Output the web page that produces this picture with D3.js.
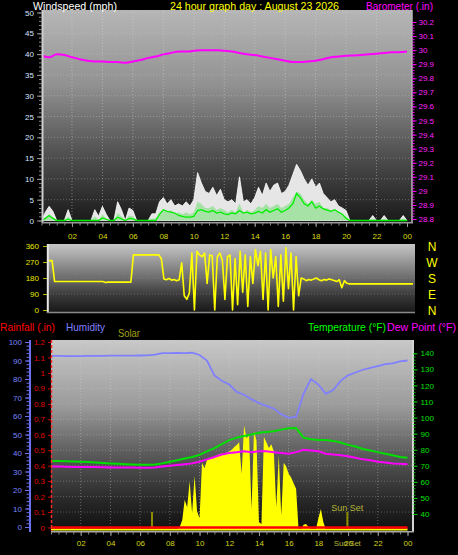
<!DOCTYPE html>
<html><head><meta charset="utf-8">
<script src="https://cdn.jsdelivr.net/npm/d3@7"></script>
<style>body{margin:0;background:#000;overflow:hidden}svg{display:block}</style>
</head><body><svg id="c" width="458" height="555"></svg>
<script>
// ---------------- DATA ----------------
const hourTickValues = [2,4,6,8,10,12,14,16,18,20,22,24];
const hourTickLabels = ["02","04","06","08","10","12","14","16","18","20","22","00"];
const windTicks = [0,5,10,15,20,25,30,35,40,45,50];
const baroTicks = [28.8,28.9,29,29.1,29.2,29.3,29.4,29.5,29.6,29.7,29.8,29.9,30,30.1,30.2];
const dirTicks = [0,90,180,270,360];
const compassLabels = ["N","E","S","W","N"];
const humTicks = [0,10,20,30,40,50,60,70,80,90,100];
const rainTicks = [0,0.1,0.2,0.3,0.4,0.5,0.6,0.7,0.8,0.9,1,1.1,1.2];
const tempTicks = [40,50,60,70,80,90,100,110,120,130,140];

// wind, every 15 minutes from 00:00 to 24:00 (mph)
const windStepHours = 0.25;
const windGust = [
 0,2,3.4,2.2, 0,0,0,2.6, 0,0,0,0, 0,0,2.6,1, 3.4,1.5,0,0, 4.5,2.6,0,3,
 2.4,0,0,0, 0,1.6,1.6,4.5, 5.5,4,5,3.5, 4,3.5,4.5,3.5, 5,11.5,9,7, 6.5,8,6,7.5,
 5,4.5,5,4, 10.5,4.5,5,4, 5.5,8,6,9, 7,8.5,9,6.5, 7,8.5,11,13.5, 12,10,8.5,10,
 8,9,6.5,5.5, 4.5,5,3.5,3, 2.4,0,0,0, 0,0,0,1.2, 0,0,1.2,0, 0,0,0,1.2, 0];
const windSpeed = [
 0,0.8,1.5,0.8, 0,0,0,1, 0,0,0,0, 0,0,1,0, 1.5,0.5,0,0, 1.8,1,0,1.2,
 1,0,0,0, 0,0.5,0.5,2, 2.5,2,2.5,1.5, 2,1.5,2,1.5, 2,4.5,4,3, 3,3.5,2.5,3,
 2.5,2,2.5,2, 4,2,2.5,2, 2.5,3.5,3,4, 3,3.5,4,3, 3.5,4,5.5,7, 6.5,5,4,5,
 4,4.5,3,3, 2.5,2.5,2,1.5, 1,0,0,0, 0,0,0,0.5, 0,0,0.5,0, 0,0,0,0.5, 0];
const windAvg = [
 0,0.5,1.2,0.5, 0,0,0,0.3, 0,0,0,0, 0,0,0,0, 0.6,0.3,0,0, 0.8,0.4,0,0.5,
 0.4,0,0,0, 0,0,0,1.5, 2.6,2.2,2,1.8, 1.2,1,0.8,0.8, 1,2.4,2.6,2.2, 2,2.4,1.8,2,
 1.6,1.4,1.8,1.6, 2.4,1.8,2,1.6, 1.8,2.2,1.8,2.6, 2,2.4,2.8,2, 2.4,3,4,6.5, 5.5,4,3.5,4.5,
 3,3.5,2.8,2.5, 2.2,2.6,2,1.5, 0.5,0,0,0, 0,0,0,0, 0,0,0,0, 0,0,0,0, 0];

// barometer, every 30 minutes (in)
const baroStepHours = 0.5;
const barometer = [
 29.96,29.95,29.97,29.965,29.95,29.935,29.925,29.92,29.92,29.915,29.915,29.91,
 29.92,29.93,29.945,29.955,29.97,29.98,29.99,29.99,29.995,30.0,30.0,30.0,
 29.995,29.99,29.98,29.97,29.965,29.955,29.945,29.935,29.925,29.915,29.915,29.92,
 29.925,29.935,29.95,29.955,29.96,29.962,29.965,29.97,29.975,29.98,29.985,29.985,29.99];

// wind direction, every 10 minutes (degrees)
const dirStepHours = 1/6;
const windDir = [
 278,278,278,160,160,160,   160,160,160,160,160,160,   160,160,160,160,160,160,
 160,160,160,160,160,155,   157,157,157,157,157,157,   157,157,157,157,310,310,
 310,310,310,310,310,310,   310,310,310,288,175,170,   178,168,172,165,170,265,
 80,60,95,320,0,330,        310,300,320,150,310,305,   0,300,320,280,60,300,
 310,0,290,30,330,100,      310,20,300,150,340,250,    330,60,320,0,340,180,
 300,20,310,50,350,120,     320,0,300,80,180,175,      165,172,168,175,180,170,
 165,172,168,175,170,166,   160,170,125,165,150,147,   147,147,147,147,147,147,
 147,147,147,147,147,147,   147,147,147,147,147,147,   147,147,147,147,147,147,
 147];

// temperature / dew point / humidity, every 30 minutes
const thStepHours = 0.5;
const humidity = [
 92.5,92.5,92.4,92.4,92.4,92.5,92.5,92.5,92.6,92.6,92.6,92.6,
 92.7,92.8,93.2,94,94,94.1,94,94.2,93,90,82,79,
 77,73,71.5,69,67,65.5,64,61,59,59.5,72,80,
 77,72,74,79,82,83.5,85,86,87,88,88.5,89.5,90];
const temperature = [
 73,73,72.8,72.6,72.5,72.3,72,71.8,71.5,71.3,71,70.8,
 70.6,70.6,70.8,71.5,72.5,73.5,74.5,75.5,76.8,79,81,83.5,
 86,87.5,88.5,89.5,90.5,91,91.5,92.5,93.3,93.5,87.5,86.5,
 86,86,85.5,84.5,83,82,80.5,79.5,78.5,77.5,76.5,75.5,75];
const dewPoint = [
 69.5,69.5,69.4,69.3,69.3,69.2,69.2,69.1,69,69,69,68.9,
 68.8,68.8,69,69.5,70,70.5,71,71.5,72.5,74,75.5,77,
 78,78.5,79,78.5,79,79,78.5,78,77.5,78.5,80,79.5,
 79,77.5,77,76.5,76,75,74,73.5,72.5,72,71.5,71.2,71];

// solar, every 10 minutes from 08:30 to 18:30 (W/m2)
const solarStartHour = 8.5, solarStepHours = 1/6;
const solar = [
 0,15,50,160,120,260, 90,290,100,60,360,330,
 375,385,380,390,400,405, 410,400,415,420,430,445,
 455,470,300,560,490,510, 110,530,480,40,30,500,
 470,440,460,420,120,400, 75,360,340,300,280,250,
 220,0,0,25,30,15, 0,0,0,60,110,40, 0];

// rainfall (in), start / end of day
const rainHours = [0,24];
const rainfall = [0,0];

const sunriseHour = 6.8, sunsetHour = 19.95;

// ---------------- DRAW ----------------
const FONT = "'Liberation Sans', Arial, sans-serif";
const svg = d3.select("#c");
const defs = svg.append("defs");
function grad(id, stops){
  const g = defs.append("linearGradient").attr("id",id).attr("x1",0).attr("y1",0).attr("x2",0).attr("y2",1);
  stops.forEach(([o,c])=>g.append("stop").attr("offset",o).attr("stop-color",c));
}
grad("gTop",[[0,"#b6b6b6"],[0.35,"#929292"],[0.7,"#4c4c4c"],[1,"#1a1a1a"]]);
grad("gMid",[[0,"#c6c6c6"],[0.5,"#6c6c6c"],[0.75,"#3a3a3a"],[1,"#181818"]]);
grad("gBot",[[0,"#c8c8c8"],[0.35,"#9a9a9a"],[0.6,"#5a5a5a"],[0.85,"#262626"],[1,"#101010"]]);
function clip(id,x0,y0,x1,y1){ defs.append("clipPath").attr("id",id).append("rect").attr("x",x0).attr("y",y0).attr("width",x1-x0).attr("height",y1-y0); }

const xTop = d3.scaleLinear().domain([0,24]).range([41.5,407]);
const yWind = d3.scaleLinear().domain([0,50]).range([220.5,12.5]);
const yBaro = d3.scaleLinear().domain([28.8,30.2]).range([219,22]);
const xMid = d3.scaleLinear().domain([0,24]).range([47,413]);
const yDir = d3.scaleLinear().domain([0,360]).range([310,246]);
const xBot = d3.scaleLinear().domain([0,24]).range([51,407.5]);
const yHum = d3.scaleLinear().domain([0,100]).range([527,342]);
const yRain = d3.scaleLinear().domain([0,1.2]).range([527.5,342]);
const yTemp = d3.scaleLinear().domain([40,140]).range([514,353.3]);
const ySolar = d3.scaleLinear().domain([0,1000]).range([529.5,344]);

const P = {top:[42,10,412,222], mid:[47,244,415,312], bot:[51,340,413,531]};
clip("cTop",...P.top); clip("cMid",...P.mid); clip("cBot",...P.bot);

function styleAxis(g, lineColor, textColor, fs){
  g.attr("font-family",FONT).attr("font-size",fs||8);
  g.select(".domain").remove();
  g.selectAll(".tick line").attr("stroke",lineColor);
  g.selectAll(".tick text").attr("fill",textColor);
  return g;
}
const dotted = "1,2";

// ===== TOP PANEL =====
svg.append("rect").attr("x",P.top[0]).attr("y",P.top[1]).attr("width",P.top[2]-P.top[0]).attr("height",P.top[3]-P.top[1]).attr("fill","url(#gTop)");
const gTop = svg.append("g").attr("clip-path","url(#cTop)");
gTop.selectAll(".vg").data(hourTickValues.slice(0,-1)).join("line")
  .attr("x1",d=>xTop(d)).attr("x2",d=>xTop(d)).attr("y1",P.top[1]).attr("y2",P.top[3])
  .attr("stroke","#d8d8d8").attr("stroke-opacity",0.45).attr("stroke-dasharray",dotted);
gTop.selectAll(".hg").data(windTicks.slice(1)).join("line")
  .attr("x1",P.top[0]).attr("x2",P.top[2]).attr("y1",d=>yWind(d)).attr("y2",d=>yWind(d))
  .attr("stroke","#d8d8d8").attr("stroke-opacity",0.35).attr("stroke-dasharray",dotted);
const wx = (d,i)=>xTop(i*windStepHours);
gTop.append("path").datum(windGust)
  .attr("d",d3.area().x(wx).y0(yWind(0)).y1(d=>yWind(d)))
  .attr("fill","#e6e6e6").attr("stroke","#ffffff").attr("stroke-width",0.8);
gTop.append("path").datum(windSpeed)
  .attr("d",d3.area().x(wx).y0(yWind(0)).y1(d=>yWind(d)))
  .attr("fill","#a6e2a6");
gTop.append("path").datum(windAvg)
  .attr("d",d3.line().x(wx).y(d=>yWind(d)))
  .attr("fill","none").attr("stroke","#00ee00").attr("stroke-width",1.3);
gTop.append("path").datum(barometer)
  .attr("d",d3.line().x((d,i)=>xTop(i*baroStepHours)).y(d=>yBaro(d)).curve(d3.curveMonotoneX))
  .attr("fill","none").attr("stroke","#ff00ff").attr("stroke-width",2);
// borders
svg.append("line").attr("x1",42.5).attr("x2",42.5).attr("y1",10).attr("y2",223).attr("stroke","#cfcfcf").attr("stroke-width",2);
svg.append("line").attr("x1",412).attr("x2",412).attr("y1",10).attr("y2",223).attr("stroke","#b8b8b8").attr("stroke-width",1.5);
svg.append("line").attr("x1",42).attr("x2",413).attr("y1",222.8).attr("y2",222.8).attr("stroke","#9a9a9a").attr("stroke-width",1.5);
// axes
styleAxis(svg.append("g").attr("transform","translate(42,0)")
  .call(d3.axisLeft(yWind).tickValues(d3.range(0,51,1)).tickSize(3).tickFormat("")),"#8a8a8a","#000");
styleAxis(svg.append("g").attr("transform","translate(42,0)")
  .call(d3.axisLeft(yWind).tickValues(windTicks).tickSize(5).tickPadding(3)),"#9a9a9a","#d6e4ff");
styleAxis(svg.append("g").attr("transform","translate(412.5,0)")
  .call(d3.axisRight(yBaro).tickValues(d3.range(0,71).map(i=>28.8+i*0.02)).tickSize(2).tickFormat("")),"#ff00ff","#000");
styleAxis(svg.append("g").attr("transform","translate(412.5,0)")
  .call(d3.axisRight(yBaro).tickValues(baroTicks).tickSize(4).tickPadding(2).tickFormat(d=>String(+d.toFixed(1)))),"#ff00ff","#ff22ff");
styleAxis(svg.append("g").attr("transform","translate(0,223)")
  .call(d3.axisBottom(xTop).tickValues(d3.range(0,24.01,0.5)).tickSize(2.5).tickFormat("")),"#8a8a8a","#000");
styleAxis(svg.append("g").attr("transform","translate(0,223)")
  .call(d3.axisBottom(xTop).tickValues(hourTickValues).tickSize(4).tickPadding(6).tickFormat((d,i)=>hourTickLabels[i])),"#9a9a9a","#dcdc10");

// titles
function title(txt,x,y,color,len,fs){
  svg.append("text").attr("x",x).attr("y",y).attr("fill",color).attr("font-family",FONT)
    .attr("font-size",fs||11).attr("textLength",len).attr("lengthAdjust","spacingAndGlyphs").text(txt);
}
title("Windspeed (mph)",33,9.5,"#ffffff",84);
title("24 hour graph day : August 23 2026",170,9.5,"#ffff00",169);
title("Barometer (.in)",366,9.5,"#ff00ff",67);

// ===== MIDDLE PANEL =====
svg.append("rect").attr("x",P.mid[0]).attr("y",P.mid[1]).attr("width",P.mid[2]-P.mid[0]).attr("height",P.mid[3]-P.mid[1]).attr("fill","url(#gMid)");
const gMid = svg.append("g").attr("clip-path","url(#cMid)");
gMid.selectAll(".hg").data([90,180,270]).join("line")
  .attr("x1",P.mid[0]).attr("x2",P.mid[2]).attr("y1",d=>yDir(d)).attr("y2",d=>yDir(d))
  .attr("stroke","#9a9a9a").attr("stroke-opacity",0.45).attr("stroke-dasharray",dotted);
gMid.append("path").datum(windDir)
  .attr("d",d3.line().x((d,i)=>xMid(i*dirStepHours)).y(d=>yDir(d)))
  .attr("fill","none").attr("stroke","#ffff00").attr("stroke-width",1.6).attr("stroke-linejoin","round");
svg.append("line").attr("x1",47.8).attr("x2",47.8).attr("y1",244).attr("y2",313).attr("stroke","#e8e8e8").attr("stroke-width",2);
svg.append("line").attr("x1",47).attr("x2",415).attr("y1",312.5).attr("y2",312.5).attr("stroke","#8a8a8a").attr("stroke-width",1.5);
styleAxis(svg.append("g").attr("transform","translate(47,0)")
  .call(d3.axisLeft(yDir).tickValues(dirTicks).tickSize(4).tickPadding(4)),"#b8b800","#e8e800");
svg.append("g").selectAll("text").data(dirTicks).join("text")
  .attr("x",432).attr("y",d=>yDir(d)+5).attr("text-anchor","middle")
  .attr("fill","#ffff00").attr("font-family",FONT).attr("font-size",12)
  .text((d,i)=>compassLabels[i]);

// ===== BOTTOM PANEL =====
svg.append("rect").attr("x",P.bot[0]).attr("y",P.bot[1]).attr("width",P.bot[2]-P.bot[0]).attr("height",P.bot[3]-P.bot[1]).attr("fill","url(#gBot)");
const gBot = svg.append("g").attr("clip-path","url(#cBot)");
gBot.selectAll(".vg").data(hourTickValues.slice(0,-1)).join("line")
  .attr("x1",d=>xBot(d)).attr("x2",d=>xBot(d)).attr("y1",P.bot[1]).attr("y2",P.bot[3])
  .attr("stroke","#d8d8d8").attr("stroke-opacity",0.4).attr("stroke-dasharray",dotted);
gBot.selectAll(".hg").data(rainTicks.slice(1)).join("line")
  .attr("x1",P.bot[0]).attr("x2",P.bot[2]).attr("y1",d=>yRain(d)).attr("y2",d=>yRain(d))
  .attr("stroke","#d8d8d8").attr("stroke-opacity",0.3).attr("stroke-dasharray",dotted);
// solar
gBot.append("line").attr("x1",xBot(0)).attr("x2",xBot(24)).attr("y1",ySolar(0)).attr("y2",ySolar(0))
  .attr("stroke","#ffff00").attr("stroke-width",2);
gBot.append("path").datum(solar)
  .attr("d",d3.area().x((d,i)=>xBot(solarStartHour+i*solarStepHours)).y0(ySolar(0)).y1(d=>ySolar(d)))
  .attr("fill","#ffff00");
// sunrise / sunset
gBot.selectAll(".sun").data([sunriseHour,sunsetHour]).join("line")
  .attr("x1",d=>xBot(d)).attr("x2",d=>xBot(d)).attr("y1",512).attr("y2",528)
  .attr("stroke","#8c8c00").attr("stroke-width",2);
svg.append("text").attr("x",xBot(sunsetHour)).attr("y",511).attr("text-anchor","middle")
  .attr("fill","#b4b438").attr("font-family",FONT).attr("font-size",9).text("Sun Set");
// humidity / temp / dew
const thx = (d,i)=>xBot(i*thStepHours);
gBot.append("path").datum(humidity)
  .attr("d",d3.line().x(thx).y(d=>yHum(d)))
  .attr("fill","none").attr("stroke","#8080ff").attr("stroke-width",1.8);
gBot.append("path").datum(temperature)
  .attr("d",d3.line().x(thx).y(d=>yTemp(d)))
  .attr("fill","none").attr("stroke","#00e000").attr("stroke-width",2);
gBot.append("path").datum(dewPoint)
  .attr("d",d3.line().x(thx).y(d=>yTemp(d)))
  .attr("fill","none").attr("stroke","#ff00ff").attr("stroke-width",2);
// rain
gBot.append("path").datum(rainfall)
  .attr("d",d3.line().x((d,i)=>xBot(rainHours[i])).y(d=>yRain(d)))
  .attr("fill","none").attr("stroke","#ff0000").attr("stroke-width",2.5);
// borders
svg.append("line").attr("x1",51.5).attr("x2",51.5).attr("y1",340).attr("y2",531).attr("stroke","#ff2a2a").attr("stroke-width",1.5).attr("stroke-dasharray","3,2");
svg.append("line").attr("x1",413).attr("x2",413).attr("y1",340).attr("y2",532).attr("stroke","#d4d4d4").attr("stroke-width",2);
svg.append("line").attr("x1",51).attr("x2",414).attr("y1",531.8).attr("y2",531.8).attr("stroke","#a8a8a8").attr("stroke-width",1.5);
// humidity axis
svg.append("line").attr("x1",30).attr("x2",30).attr("y1",340).attr("y2",532).attr("stroke","#6a70f0").attr("stroke-width",2);
styleAxis(svg.append("g").attr("transform","translate(29,0)")
  .call(d3.axisLeft(yHum).tickValues(d3.range(0,101,2)).tickSize(2.5).tickFormat("")),"#6a70f0","#000");
styleAxis(svg.append("g").attr("transform","translate(29,0)")
  .call(d3.axisLeft(yHum).tickValues(humTicks).tickSize(4).tickPadding(3)),"#6a70f0","#7a84ff");
// rain axis
styleAxis(svg.append("g").attr("transform","translate(51,0)")
  .call(d3.axisLeft(yRain).tickValues(rainTicks).tickSize(3).tickPadding(3).tickFormat(d=>String(+d.toFixed(1)))),"#d00000","#e00000");
// temperature axis
styleAxis(svg.append("g").attr("transform","translate(413.5,0)")
  .call(d3.axisRight(yTemp).tickValues(d3.range(40,141,2)).tickSize(2).tickFormat("")),"#00c000","#000");
styleAxis(svg.append("g").attr("transform","translate(413.5,0)")
  .call(d3.axisRight(yTemp).tickValues(tempTicks).tickSize(4).tickPadding(3)),"#00d000","#00e000");
// x axis
styleAxis(svg.append("g").attr("transform","translate(0,532)")
  .call(d3.axisBottom(xBot).tickValues(d3.range(0,24.01,0.5)).tickSize(2.5).tickFormat("")),"#8a8a8a","#000");
styleAxis(svg.append("g").attr("transform","translate(0,532)")
  .call(d3.axisBottom(xBot).tickValues(hourTickValues).tickSize(4).tickPadding(4).tickFormat((d,i)=>hourTickLabels[i])),"#9a9a9a","#d4d410");
svg.append("text").attr("x",xBot(sunsetHour)).attr("y",546).attr("text-anchor","middle")
  .attr("fill","#b4b438").attr("font-family",FONT).attr("font-size",8).attr("textLength",27).text("Sun Set");

title("Rainfall (.in)",0,331,"#ff0000",55);
title("Humidity",66,331,"#8080ff",39);
title("Solar",118,337,"#a0a010",22);
title("Temperature (°F)",308,331,"#00ff00",78);
title("Dew Point (°F)",387,331,"#ff00ff",69);
</script>
</body></html>
